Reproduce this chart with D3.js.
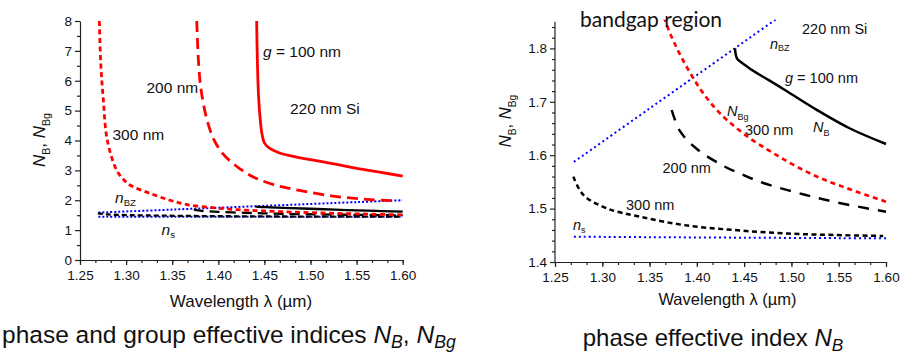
<!DOCTYPE html>
<html>
<head>
<meta charset="utf-8">
<script src="https://cdn.jsdelivr.net/npm/d3@7"></script>
<style>
  html, body { margin: 0; padding: 0; background: #fff; }
  svg { display: block; font-family: "Liberation Sans", Arial, sans-serif; }
</style>
</head>
<body>
<svg id="fig" width="903" height="359"></svg>
<script>
// Wavelength (µm) vs. index, one array per curve.
// Group effective index N_Bg (red) for gaps g = 100, 200, 300 nm
const nBg100 = [[1.4416,8.0],[1.4425,6.5],[1.4438,5.4],[1.4455,4.7],[1.4475,4.2],[1.450,3.92],
  [1.455,3.75],[1.465,3.6],[1.48,3.48],[1.50,3.36],[1.525,3.22],[1.55,3.07],[1.575,2.94],[1.60,2.81]];
const nBg200 = [[1.3766,8.0],[1.3788,6.5],[1.3813,5.7],[1.3878,4.68],[1.3955,4.01],[1.4046,3.57],
  [1.4172,3.2],[1.430,2.92],[1.442,2.72],[1.4647,2.48],[1.4864,2.34],[1.5244,2.14],[1.561,2.03],[1.594,1.98]];
const nBg300 = [[1.271,8.0],[1.2725,6.6],[1.2753,5.36],[1.2796,4.01],[1.2898,3.0],[1.2977,2.68],
  [1.304,2.51],[1.326,2.23],[1.3476,2.0],[1.3663,1.853],[1.3963,1.744],[1.421,1.685],[1.449,1.641],
  [1.4844,1.600],[1.5231,1.563],[1.562,1.536],[1.60,1.513]];
// Phase effective index N_B (black)
const nB100 = [[1.4403,1.800],[1.4410,1.790],[1.4428,1.780],[1.450,1.770],[1.4562,1.762],
  [1.4914,1.724],[1.5267,1.685],[1.562,1.650],[1.60,1.621]];
const nB200 = [[1.3734,1.6846],[1.3822,1.645],[1.3998,1.612],[1.428,1.580],[1.449,1.563],
  [1.4703,1.548],[1.5056,1.530],[1.5443,1.513],[1.60,1.494]];
const nB300 = [[1.2694,1.5598],[1.28,1.5255],[1.3047,1.5005],[1.3399,1.4848],[1.3857,1.4693],
  [1.4385,1.46],[1.4914,1.4537],[1.5443,1.4506],[1.597,1.4487]];
// Brillouin-zone index and substrate index (blue)
const nBZ = [[1.27,1.5875],[1.35,1.6875],[1.45,1.8125],[1.55,1.9375],[1.60,2.0]];
const nS = [[1.27,1.4474],[1.35,1.4465],[1.45,1.4455],[1.55,1.4447],[1.60,1.4444]];

// Axis ticks
const xTicks = [1.25,1.30,1.35,1.40,1.45,1.50,1.55,1.60];
const leftYTicks = [0,1,2,3,4,5,6,7,8];
const rightYTicks = [1.4,1.5,1.6,1.7,1.8];

const svg = d3.select("#fig");
const RED = "#ff0000", BLUE = "#0000ff", BLACK = "#000";

// Text with italic symbols and subscripts
function richText(g, x, y, parts, size, opts = {}) {
  const t = g.append("text").attr("x", x).attr("y", y)
    .attr("font-size", size).attr("fill", "#111");
  if (opts.anchor) t.attr("text-anchor", opts.anchor);
  if (opts.transform) t.attr("transform", opts.transform);
  let shifted = 0;
  parts.forEach(p => {
    const s = t.append("tspan").text(p.t);
    if (p.i) s.attr("font-style", "italic");
    const want = p.sub ? (opts.subDy || size * 0.3) : 0;
    if (want !== shifted) { s.attr("dy", want - shifted); shifted = want; }
    if (p.sub) s.attr("font-size", size * (opts.subScale || 0.62));
  });
  return t;
}

function panel(cfg) {
  const g = svg.append("g");
  const x = d3.scaleLinear().domain([1.25, 1.60]).range(cfg.xr);
  const y = d3.scaleLinear().domain(cfg.yd).range(cfg.yr);

  const clipId = "clip" + cfg.id;
  g.append("clipPath").attr("id", clipId).append("rect")
    .attr("x", cfg.xr[0]).attr("y", cfg.yr[1] - 2)
    .attr("width", cfg.xr[1] - cfg.xr[0] + 2).attr("height", cfg.yr[0] - cfg.yr[1] + 2);

  // minor ticks
  const minorX = d3.range(0, 22).map(i => 1.25 + i * 0.05 / 3).filter(v => v < 1.6001);
  g.append("g").attr("transform", `translate(0,${cfg.yr[0]})`)
    .call(d3.axisBottom(x).tickValues(minorX).tickSize(3).tickFormat(""))
    .call(a => a.select(".domain").remove());
  g.append("g").attr("transform", `translate(${cfg.xr[0]},0)`)
    .call(d3.axisLeft(y).tickValues(cfg.yMinor).tickSize(3).tickFormat(""))
    .call(a => a.select(".domain").remove());

  // major axes
  const ax = g.append("g").attr("transform", `translate(0,${cfg.yr[0]})`)
    .call(d3.axisBottom(x).tickValues(xTicks).tickSize(5).tickSizeOuter(0).tickPadding(5)
      .tickFormat(d3.format(".2f")));
  ax.selectAll("text").attr("font-size", cfg.tickFont).attr("fill", "#111");
  const ay = g.append("g").attr("transform", `translate(${cfg.xr[0]},0)`)
    .call(d3.axisLeft(y).tickValues(cfg.yTicks).tickSize(5).tickSizeOuter(0).tickPadding(3)
      .tickFormat(cfg.yFmt));
  ay.selectAll("text").attr("font-size", cfg.tickFont).attr("fill", "#111");
  if (cfg.yTop !== undefined) {
    ay.select(".domain").attr("d", `M0,${cfg.yr[0]}V${y(cfg.yTop)}`);
  }
  g.selectAll(".domain, .tick line").attr("stroke", "#222").attr("stroke-width", 1.2);

  // axis titles
  g.append("text").attr("x", cfg.xTitle[0]).attr("y", cfg.xTitle[1])
    .attr("text-anchor", "middle").attr("font-size", cfg.titleFont).attr("fill", "#111")
    .text("Wavelength λ (µm)");
  richText(g, 0, 0, [
    {t: "N", i: true}, {t: "B", sub: true}, {t: ", "}, {t: "N", i: true}, {t: "Bg", sub: true}
  ], cfg.titleFont, {anchor: "middle",
    transform: `translate(${cfg.yTitle[0]},${cfg.yTitle[1]}) rotate(-90)`, subDy: 5});

  // curves
  const line = d3.line().x(d => x(d[0])).y(d => y(d[1])).curve(d3.curveCatmullRom.alpha(0.5));
  const plot = g.append("g").attr("clip-path", `url(#${clipId})`);
  cfg.curves.forEach(c => {
    plot.append("path").datum(c.data).attr("d", line)
      .attr("fill", "none").attr("stroke", c.color).attr("stroke-width", c.w)
      .attr("stroke-dasharray", c.dash || null)
      .attr("stroke-linecap", c.cap || "butt");
  });
  return {g, x, y};
}

// Left panel: phase and group indices
const L = panel({
  id: "L", xr: [80, 402.7], yd: [0, 8], yr: [260, 21],
  yTicks: leftYTicks, yMinor: [0.5,1.5,2.5,3.5,4.5,5.5,6.5,7.5], yFmt: d3.format("d"),
  tickFont: 13.5, titleFont: 17, xTitle: [241, 307], yTitle: [45, 140],
  curves: [
    {data: nS, color: BLUE, w: 2, dash: "2,2"},
    {data: nBZ, color: BLUE, w: 2, dash: "2,2"},
    {data: nB300, color: BLACK, w: 2.3, dash: "5,3"},
    {data: nB200, color: BLACK, w: 2.3, dash: "10,6"},
    {data: nB100, color: BLACK, w: 2.3},
    {data: nBg300, color: RED, w: 2.8, dash: "5,3.5"},
    {data: nBg200, color: RED, w: 2.8, dash: "11,6"},
    {data: nBg100, color: RED, w: 2.8}
  ]
});
richText(L.g, 263, 57, [{t: "g", i: true}, {t: " = 100 nm"}], 15.5);
richText(L.g, 146.5, 93, [{t: "200 nm"}], 15.5);
richText(L.g, 290, 113.5, [{t: "220 nm Si"}], 15.5);
richText(L.g, 112.5, 139.5, [{t: "300 nm"}], 15.5);
richText(L.g, 115, 203, [{t: "n", i: true}, {t: "BZ", sub: true}], 15.5, {subDy: 3});
richText(L.g, 161.5, 235, [{t: "n", i: true}, {t: "s", sub: true}], 15.5, {subDy: 3});

// Right panel: phase index in the bandgap region
const R = panel({
  id: "R", xr: [555, 886], yd: [1.4, 1.85], yr: [262, 21.7], yTop: 1.85,
  yTicks: rightYTicks,
  yMinor: [1.42,1.44,1.46,1.48,1.52,1.54,1.56,1.58,1.62,1.64,1.66,1.68,1.72,1.74,1.76,1.78,1.82,1.84],
  yFmt: d3.format(".1f"),
  tickFont: 13.5, titleFont: 16.5, xTitle: [727.5, 305], yTitle: [511, 121],
  curves: [
    {data: nS, color: BLUE, w: 2, dash: "2,3"},
    {data: nBZ, color: BLUE, w: 2, dash: "2,3"},
    {data: nB300, color: BLACK, w: 2.5, dash: "5,3.5"},
    {data: nB200, color: BLACK, w: 2.5, dash: "11,9"},
    {data: nB100, color: BLACK, w: 2.5},
    {data: nBg300, color: RED, w: 2.7, dash: "5,4"}
  ]
});
R.g.append("text").attr("x", 580).attr("y", 27).attr("font-family", "Lato, 'Open Sans', sans-serif")
  .attr("font-size", 21).attr("fill", "#111").text("bandgap region");
richText(R.g, 802, 33.5, [{t: "220 nm Si"}], 14.5);
richText(R.g, 770, 48.5, [{t: "n", i: true}, {t: "BZ", sub: true}], 14.5, {subDy: 2.5});
richText(R.g, 785, 83, [{t: "g", i: true}, {t: " = 100 nm"}], 14.5);
richText(R.g, 727, 115.5, [{t: "N", i: true}, {t: "Bg", sub: true}], 14.5, {subDy: 4});
richText(R.g, 745, 135, [{t: "300 nm"}], 14.5);
richText(R.g, 813, 132, [{t: "N", i: true}, {t: "B", sub: true}], 14.5, {subDy: 4});
richText(R.g, 662.5, 173, [{t: "200 nm"}], 14.5);
richText(R.g, 626, 210, [{t: "300 nm"}], 14.5);
richText(R.g, 573, 229.5, [{t: "n", i: true}, {t: "s", sub: true}], 14.5, {subDy: 3});

// Captions
richText(svg, 2, 343, [
  {t: "phase and group effective indices "}, {t: "N", i: true}, {t: "B", i: true, sub: true},
  {t: ", "}, {t: "N", i: true}, {t: "Bg", i: true, sub: true}
], 24.5, {subDy: 5, subScale: 0.72});
richText(svg, 713, 346, [
  {t: "phase effective index "}, {t: "N", i: true}, {t: "B", i: true, sub: true}
], 24, {anchor: "middle", subDy: 5, subScale: 0.72});
</script>
</body>
</html>
